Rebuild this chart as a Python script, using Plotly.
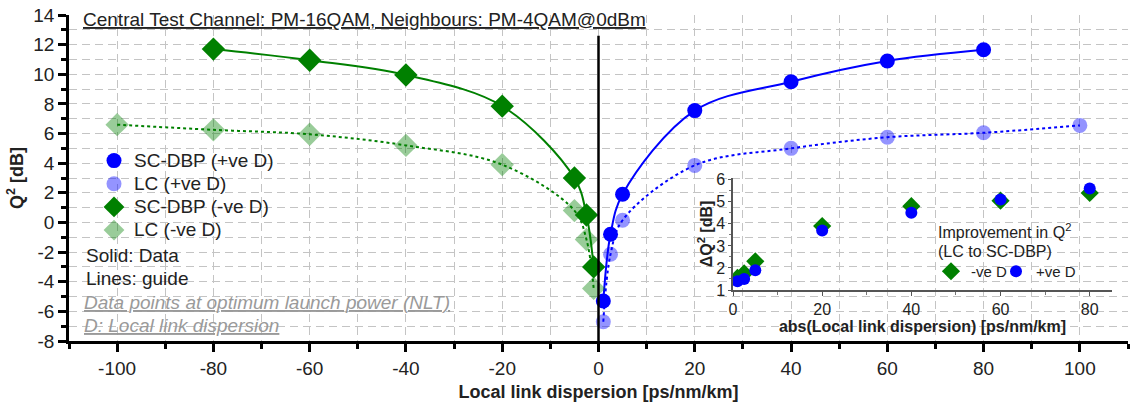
import plotly.graph_objects as go

# ---------------- data ----------------
d_pos = [1, 2.5, 5, 20, 40, 60, 80]
q_scdbp_pos = [-5.3, -0.8, 1.9, 7.55, 9.5, 10.9, 11.65]
d_pos_lc = [1, 2.5, 5, 20, 40, 60, 80, 100]
q_lc_pos = [-6.7, -2.15, 0.15, 3.85, 5.0, 5.75, 6.05, 6.55]

d_neg = [-80, -60, -40, -20, -5, -2.5, -1]
q_scdbp_neg = [11.7, 10.95, 9.95, 7.85, 3.0, 0.5, -3.0]
d_neg_lc = [-100, -80, -60, -40, -20, -5, -2.5, -1]
q_lc_neg = [6.6, 6.25, 5.95, 5.2, 3.9, 0.8, -1.15, -4.45]

abs_d = [1, 2.5, 5, 20, 40, 60, 80]
dq_neg = [1.55, 1.75, 2.3, 3.9, 4.8, 5.05, 5.4]
dq_pos = [1.4, 1.5, 1.9, 3.7, 4.5, 5.1, 5.6]

x_ticks = [-100, -80, -60, -40, -20, 0, 20, 40, 60, 80, 100]
y_ticks = [-8, -6, -4, -2, 0, 2, 4, 6, 8, 10, 12, 14]
inset_x_ticks = [0, 20, 40, 60, 80]
inset_y_ticks = [1, 2, 3, 4, 5, 6]

title_text = "Central Test Channel: PM-16QAM, Neighbours: PM-4QAM@0dBm"

# ---------------- styles ----------------
BLUE = "#0000ff"
LBLUE = "rgba(0,0,255,0.42)"
GREEN = "#008000"
LGREEN = "rgba(0,128,0,0.4)"
FONT = "Liberation Sans, Arial, sans-serif"
GRID = "#c4c4c4"
TXT = "#222"

W, H = 1130, 406
L, R, T, B = 69, 2, 15, 65
PW, PH = W - L - R, H - T - B


def px(xp):
    return (xp - L) / PW


def py(yp):
    return (H - B - yp) / PH


def big(s, size=19):
    return "<span style='font-size:%dpx'>%s</span>" % (size, s)


fig = go.Figure()

# guide lines
fig.add_trace(go.Scatter(x=d_neg_lc, y=q_lc_neg, mode="lines", line=dict(color=GREEN, width=2, dash="dot", shape="spline", smoothing=1.0), showlegend=False, hoverinfo="skip"))
fig.add_trace(go.Scatter(x=d_pos_lc, y=q_lc_pos, mode="lines", line=dict(color=BLUE, width=2, dash="dot", shape="spline", smoothing=1.0), showlegend=False, hoverinfo="skip"))
fig.add_trace(go.Scatter(x=d_neg, y=q_scdbp_neg, mode="lines", line=dict(color=GREEN, width=2, shape="spline", smoothing=1.0), showlegend=False, hoverinfo="skip"))
fig.add_trace(go.Scatter(x=d_pos, y=q_scdbp_pos, mode="lines", line=dict(color=BLUE, width=2, shape="spline", smoothing=1.0), showlegend=False, hoverinfo="skip"))

# markers (legend)
fig.add_trace(go.Scatter(x=d_pos, y=q_scdbp_pos, mode="markers", name=big("SC-DBP (+ve D)"), marker=dict(symbol="circle", size=15, color=BLUE), legend="legend"))
fig.add_trace(go.Scatter(x=d_pos_lc, y=q_lc_pos, mode="markers", name=big("LC (+ve D)"), marker=dict(symbol="circle", size=15, color=LBLUE), legend="legend"))
fig.add_trace(go.Scatter(x=d_neg, y=q_scdbp_neg, mode="markers", name=big("SC-DBP (-ve D)"), marker=dict(symbol="diamond", size=18, color=GREEN), legend="legend"))
fig.add_trace(go.Scatter(x=d_neg_lc, y=q_lc_neg, mode="markers", name=big("LC (-ve D)"), marker=dict(symbol="diamond", size=18, color=LGREEN), legend="legend"))

# inset
fig.add_trace(go.Scatter(x=abs_d, y=dq_neg, mode="markers", name="-ve D", marker=dict(symbol="diamond", size=14, color=GREEN), xaxis="x2", yaxis="y2", legend="legend2"))
fig.add_trace(go.Scatter(x=abs_d, y=dq_pos, mode="markers", name="+ve D", marker=dict(symbol="circle", size=12, color=BLUE), xaxis="x2", yaxis="y2", legend="legend3"))

axis_common = dict(showline=True, linecolor="black", linewidth=2.5, ticks="outside", ticklen=8, tickwidth=2.5,
                   tickcolor="black", zeroline=False, showgrid=True, gridcolor=GRID, gridwidth=1, griddash="8px,5px",
                   automargin=False, tickfont=dict(size=19, color=TXT, family=FONT))

fig.update_layout(
    width=W, height=H,
    margin=dict(l=L, r=R, t=T, b=B, autoexpand=False),
    paper_bgcolor="white", plot_bgcolor="rgba(0,0,0,0)",
    font=dict(family=FONT, color=TXT),
    xaxis=dict(range=[-110, 110], tickvals=x_ticks, ticktext=[str(v) for v in x_ticks],
               title=dict(text="<b>Local link dispersion [ps/nm/km]</b>", font=dict(size=18), standoff=8),
               minor=dict(dtick=10, tick0=0, ticks="outside", ticklen=5, tickwidth=2.5, tickcolor="black", showgrid=True, gridcolor=GRID, griddash="8px,5px"),
               **axis_common),
    yaxis=dict(range=[-8, 14], tickvals=y_ticks, ticktext=[str(v) for v in y_ticks],
               title=dict(text="<b>Q<sup>2</sup> [dB]</b>", font=dict(size=18), standoff=6),
               minor=dict(dtick=1, tick0=0, ticks="outside", ticklen=5, tickwidth=2.5, tickcolor="black", showgrid=True, gridcolor=GRID, griddash="8px,5px"),
               **axis_common),
    xaxis2=dict(domain=[px(733), px(1112)], range=[0, 85], anchor="y2", tickvals=inset_x_ticks, showgrid=False, zeroline=False,
                showline=True, linecolor="#555", linewidth=1.5, ticks="outside", ticklen=4, tickcolor="#555",
                minor=dict(dtick=10, ticks="outside", ticklen=3, tickcolor="#777"), automargin=False,
                tickfont=dict(size=16, color=TXT),
                title=dict(text="<b>abs(Local link dispersion) [ps/nm/km]</b>", font=dict(size=16), standoff=2)),
    yaxis2=dict(domain=[py(290), py(178)], range=[1, 6.08], anchor="x2", tickvals=inset_y_ticks, showgrid=False, zeroline=False,
                showline=True, linecolor="#555", linewidth=1.5, ticks="outside", ticklen=3, tickcolor="#555",
                minor=dict(dtick=0.5, ticks="outside", ticklen=2, tickcolor="#777"), automargin=False,
                tickfont=dict(size=16, color=TXT),
                title=dict(text="<b>ΔQ<sup>2</sup> [dB]</b>", font=dict(size=16), standoff=0)),
    legend=dict(x=px(94), y=py(144), xanchor="left", yanchor="top", bgcolor="rgba(0,0,0,0)",
                font=dict(size=15.5, color=TXT), tracegroupgap=0, itemwidth=30),
    legend2=dict(x=px(931), y=py(255), xanchor="left", yanchor="top", orientation="h", bgcolor="rgba(0,0,0,0)",
                 font=dict(size=15, color=TXT), itemwidth=30),
    legend3=dict(x=px(996), y=py(255), xanchor="left", yanchor="top", orientation="h", bgcolor="rgba(0,0,0,0)",
                 font=dict(size=15, color=TXT), itemwidth=30),
)

fig.add_shape(type="line", x0=0, x1=0, y0=-8, y1=12.6, xref="x", yref="y", line=dict(color="black", width=2.5))

ann = [
    dict(text="<u>" + title_text + "</u>", x=px(81), y=py(19), size=19, color=TXT),
    dict(text="Solid: Data", x=px(84), y=py(255), size=19, color=TXT),
    dict(text="Lines: guide", x=px(84), y=py(278), size=19, color=TXT),
    dict(text="<u><i>Data points at optimum launch power (NLT)</i></u>", x=px(82), y=py(302), size=19, color="#9a9a9a"),
    dict(text="<u><i>D: Local link dispersion</i></u>", x=px(82), y=py(325), size=19, color="#9a9a9a"),
    dict(text="Improvement in Q<sup>2</sup>", x=px(936), y=py(231), size=16, color=TXT),
    dict(text="(LC to SC-DBP)", x=px(936), y=py(251), size=16, color=TXT),
]
for a in ann:
    fig.add_annotation(text=a["text"], x=a["x"], y=a["y"], xref="paper", yref="paper", xanchor="left", yanchor="middle",
                       showarrow=False, font=dict(size=a["size"], color=a["color"], family=FONT))

fig.write_html("out.html", config={"displayModeBar": False},
               post_script="document.body.style.margin='0';document.body.style.overflow='hidden';")
